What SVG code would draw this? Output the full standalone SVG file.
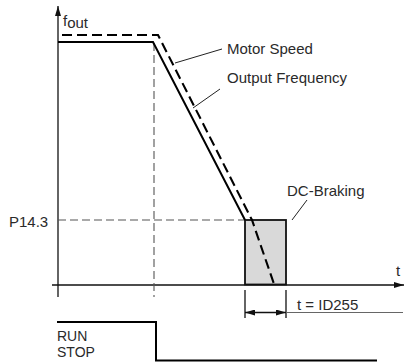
<svg xmlns="http://www.w3.org/2000/svg" width="404" height="362" viewBox="0 0 404 362">
<style>
text{font-family:"Liberation Sans",Arial,sans-serif;font-size:15px;fill:#2a2a2a}
.ax{stroke:#111;stroke-width:1.3;fill:none}
.thin{stroke:#555;stroke-width:1.1;fill:none;stroke-dasharray:8 4}
.sol{stroke:#000;stroke-width:2;fill:none}
.dsh{stroke:#000;stroke-width:2.1;fill:none;stroke-dasharray:10 5}
.lead{stroke:#222;stroke-width:1;fill:none}
</style>
<defs>
<marker id="ah" viewBox="0 0 10 6" refX="10" refY="3" markerWidth="10" markerHeight="6" markerUnits="userSpaceOnUse" orient="auto-start-reverse">
<path d="M0,0 L10,3 L0,6 Z" fill="#111"/>
</marker>
</defs>
<g id="axes">
<line class="ax" x1="58" y1="297" x2="58" y2="6" marker-end="url(#ah)"/>
<line class="ax" x1="52" y1="285" x2="404" y2="285" marker-end="url(#ah)"/>
<text x="63" y="26">f<tspan dy="2">out</tspan></text>
<text x="396" y="276">t</text>
</g>
<g id="guides">
<line class="thin" x1="154" y1="43" x2="154" y2="297"/>
<line class="thin" x1="58" y1="220" x2="245" y2="220"/>
<text x="9" y="227">P14.3</text>
</g>
<g id="dc-braking">
<rect x="245" y="220" width="41" height="64.5" fill="#d9d9d9" stroke="#111" stroke-width="1.8"/>
<text x="287" y="196">DC-Braking</text>
</g>
<g id="curves">
<polyline class="sol" points="58,42 153,42 245,220"/>
<polyline class="dsh" points="62,35 158,35 252,220 274,284"/>
</g>
<g id="labels">
<text x="227" y="54">Motor Speed</text>
<text x="227" y="83">Output Frequency</text>
</g>
<g id="connectors">
<line class="lead" x1="222" y1="49" x2="175" y2="63"/>
<line class="lead" x1="220" y1="89" x2="193" y2="108"/>
<line class="lead" x1="307" y1="200" x2="292" y2="220"/>
<line class="ax" x1="245" y1="290" x2="245" y2="318"/>
<line class="ax" x1="286" y1="290" x2="286" y2="318"/>
<line class="ax" x1="245" y1="312.5" x2="286" y2="312.5" marker-start="url(#ah)" marker-end="url(#ah)"/>
<line x1="286" y1="312.5" x2="403" y2="312.5" stroke="#666" stroke-width="1.2"/>
<text x="297" y="310">t = ID255</text>
</g>
<g id="run-stop">
<polyline class="sol" points="57,322 156,322 156,360.5 377,360.5"/>
<text x="57" y="341" style="font-size:14px">RUN</text>
<text x="57" y="357" style="font-size:14px">STOP</text>
</g>
</svg>
